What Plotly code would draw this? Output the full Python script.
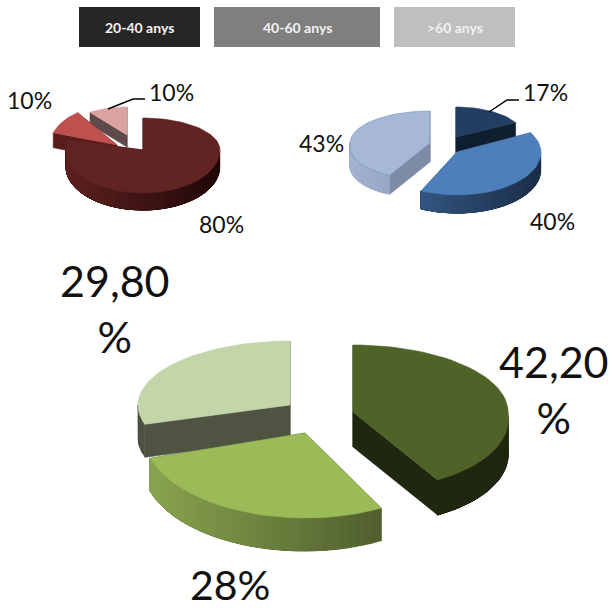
import math
import plotly.graph_objects as go

# ---- data ----
AGE_GROUPS = ["20-40 anys", "40-60 anys", ">60 anys"]
RED_VALUES = [80, 10, 10]
BLUE_VALUES = [17, 40, 43]
GREEN_VALUES = [42.2, 28, 29.8]
RED_LABELS = ["80%", "10%", "10%"]
BLUE_LABELS = ["17%", "40%", "43%"]
GREEN_LABELS = ["42,20<br>%", "28%", "29,80<br>%"]

# ---- style: per-slice pivot, radii, depth, colours ----
RED_STYLE = [
    dict(c=(143, 150), rx=77, up=32, down=43, h=17, top="#622423", cut="#4a1817", wl="#5f2221", wr="#200807"),
    dict(c=(117, 145), rx=67, up=40, down=40, h=15, top="#c0504d", cut="#591d1c", wl="#591d1c", wr="#591d1c"),
    dict(c=(127, 135), rx=63, up=28, down=28, h=12, top="#dba3a1", cut="#5e4a4a", wl="#5e4a4a", wr="#5e4a4a"),
]
BLUE_STYLE = [
    dict(c=(456, 137), rx=68, up=30, down=30, h=16, top="#223f63", cut="#101f30", wl="#101f30", wr="#101f30"),
    dict(c=(457, 152), rx=84, up=40, down=43, h=18, top="#4f7fba", cut="#2c4a70", wl="#3b6698", wr="#1c2e48", line="#4f7fba"),
    dict(c=(430, 143), rx=80, up=32, down=36, h=19, sk=-0.2, top="#a6b8d6", cut="#7d8ba6", wl="#a3b3d0", wr="#7d8ba6", line="#6f8fbc"),
]
GREEN_STYLE = [
    dict(c=(353, 412), rx=155, up=67, down=77, h=35, sk=0.17, top="#4f6228", cut="#1f2710", wl="#1f2710", wr="#1f2710"),
    dict(c=(305, 433), rx=162, up=85, down=85, h=33, top="#9bbb59", cut="#3c4622", wl="#8ba750", wr="#3c4622"),
    dict(c=(290, 405), rx=152, up=64, down=65, h=33, top="#c3d5a9", cut="#4e5342", wl="#4e5342", wr="#4e5342"),
]
RED_ORDER = [2, 1, 0]
BLUE_ORDER = [0, 1, 2]
GREEN_ORDER = [2, 0, 1]

LEGEND_BOXES = [(79, 200, "#262626"), (214, 380, "#7f7f7f"), (394, 515, "#bfbfbf")]


def rim(s, deg):
    t = math.radians(deg)
    cx, cy = s["c"]
    co = math.cos(t)
    dy = -(s["up"] if co > 0 else s["down"]) * co
    x = cx + s["rx"] * math.sin(t)
    if dy > 0:
        x += s.get("sk", 0) * dy
    return x, cy + dy


def mix(a, b, f):
    f = min(max(f, 0), 1)
    pa = [int(a[i:i + 2], 16) for i in (1, 3, 5)]
    pb = [int(b[i:i + 2], 16) for i in (1, 3, 5)]
    return "#%02x%02x%02x" % tuple(round(x + (y - x) * f) for x, y in zip(pa, pb))


def poly(fig, pts, fill, line=None, width=0.6):
    fig.add_trace(go.Scatter(
        x=[p[0] for p in pts] + [pts[0][0]],
        y=[p[1] for p in pts] + [pts[0][1]],
        mode="lines", fill="toself", fillcolor=fill,
        line=dict(color=line or fill, width=width),
        hoverinfo="skip", showlegend=False))


def draw_pie(fig, values, styles, order):
    total = sum(values)
    spans, a = [], 0.0
    for v in values:
        spans.append((a, a + 360.0 * v / total))
        a += 360.0 * v / total
    for i in order:
        s = styles[i]
        a0, a1 = spans[i]
        cx, cy = s["c"]
        h = s["h"]
        # radial cut walls
        for e in (a0, a1):
            x, y = rim(s, e)
            poly(fig, [(cx, cy), (x, y), (x, y + h), (cx, cy + h)], s["cut"])
        # outer wall, front half only, painted from the right so each band overlaps the next
        lo, hi = max(a0, 90.0), min(a1, 270.0)
        if hi > lo:
            n = max(int((hi - lo) / 3), 1)
            for k in range(n):
                d0 = lo + (hi - lo) * k / n
                p0 = rim(s, d0)
                arc = [rim(s, d0 + (hi - d0) * j / 20) for j in range(21)]
                f = (p0[0] - (cx - s["rx"])) / (2 * s["rx"])
                pts = arc + [(p[0], p[1] + h) for p in reversed(arc)]
                poly(fig, pts, mix(s["wl"], s["wr"], f), width=0.2)
        # top face
        n = max(int((a1 - a0) / 3), 2)
        arc = [rim(s, a0 + (a1 - a0) * k / n) for k in range(n + 1)]
        poly(fig, [(cx, cy)] + arc, s["top"], s.get("line"))


fig = go.Figure()
draw_pie(fig, RED_VALUES, RED_STYLE, RED_ORDER)
draw_pie(fig, BLUE_VALUES, BLUE_STYLE, BLUE_ORDER)
draw_pie(fig, GREEN_VALUES, GREEN_STYLE, GREEN_ORDER)

FONT = "Lato, Liberation Sans, sans-serif"
shapes, annotations = [], []
for (x0, x1, col), name in zip(LEGEND_BOXES, AGE_GROUPS):
    shapes.append(dict(type="rect", xref="x", yref="y", x0=x0, x1=x1, y0=7, y1=47,
                       fillcolor=col, line=dict(width=0), layer="below"))
    annotations.append(dict(x=(x0 + x1) / 2, y=27, text="<b>%s</b>" % name, showarrow=False,
                            font=dict(family=FONT, size=14, color="#f2f2f2")))

# leader lines
for pts in ([(108, 109), (133, 99), (145, 99)], [(489, 112), (507, 100), (519, 100)]):
    fig.add_trace(go.Scatter(x=[p[0] for p in pts], y=[p[1] for p in pts], mode="lines",
                             line=dict(color="#000000", width=1.5), hoverinfo="skip", showlegend=False))


def label(x, y, text, size):
    annotations.append(dict(x=x, y=y, text=text, showarrow=False,
                            font=dict(family=FONT, size=size, color="#111111")))


label(221, 224, RED_LABELS[0], 23)
label(29, 100, RED_LABELS[1], 23)
label(171, 92, RED_LABELS[2], 23)
label(545, 92, BLUE_LABELS[0], 23)
label(552, 221, BLUE_LABELS[1], 23)
label(321, 143, BLUE_LABELS[2], 23)
label(554, 389, GREEN_LABELS[0], 43)
label(230, 584, GREEN_LABELS[1], 41)
label(115, 308, GREEN_LABELS[2], 43)

fig.update_layout(
    width=613, height=611, margin=dict(l=0, r=0, t=0, b=0),
    paper_bgcolor="white", plot_bgcolor="white", showlegend=False,
    xaxis=dict(range=[0, 613], visible=False, fixedrange=True),
    yaxis=dict(range=[611, 0], visible=False, fixedrange=True),
    shapes=shapes, annotations=annotations)

fig.write_html("out.html", post_script="document.body.style.margin='0';document.body.style.overflow='hidden';",
               config=dict(displayModeBar=False))
